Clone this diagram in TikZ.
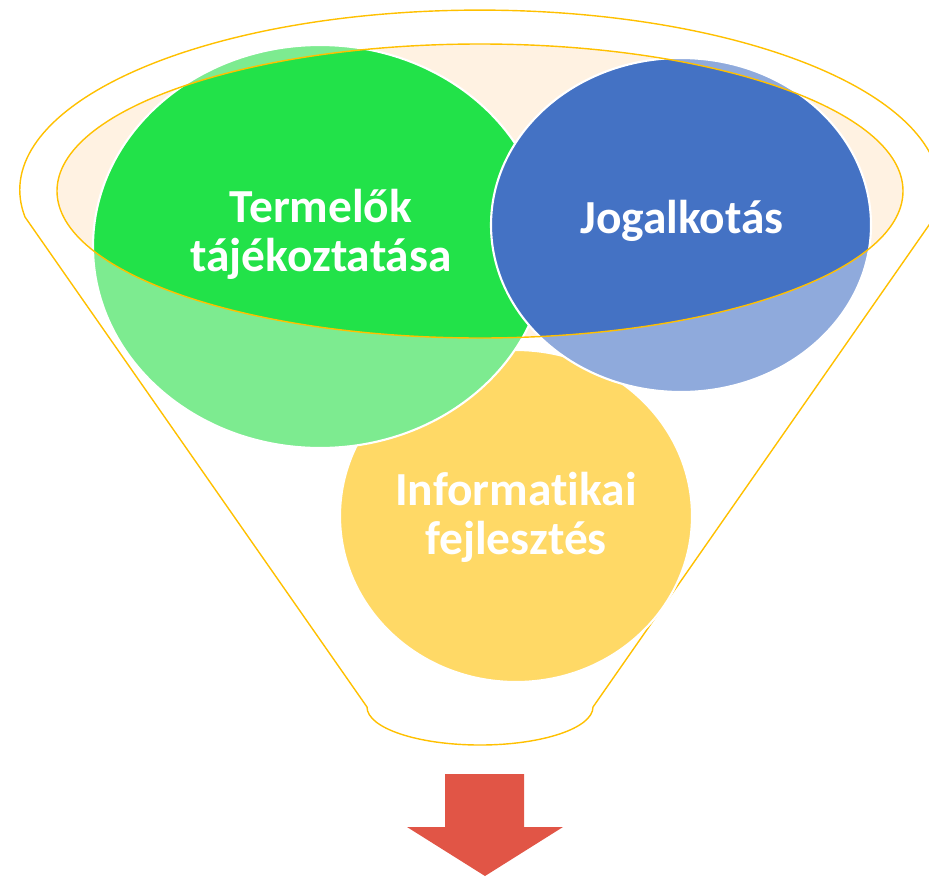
\documentclass[tikz,border=0pt]{standalone}
\usepackage{fontspec}
\setmainfont{Carlito}[Ligatures=NoCommon]

\definecolor{funnelline}{HTML}{FFC000}
\definecolor{mouth}{HTML}{FFF2E2}
\definecolor{greenlight}{HTML}{7DEB90}
\definecolor{greendark}{HTML}{22E249}
\definecolor{bluelight}{HTML}{8FAADC}
\definecolor{bluedark}{HTML}{4472C4}
\definecolor{yellowball}{HTML}{FFD966}
\definecolor{arrowred}{HTML}{E15546}

\tikzset{
  funnel/.style={
    draw=funnelline,
    line width=0.8pt,
  },
  ball rim/.style={
    draw=white,
    line width=1.2pt,
  },
  ball label/.style={
    text=white,
    align=center,
    font=\bfseries\fontsize{27}{27.8}\selectfont,
  },
}

\begin{document}
\begin{tikzpicture}[x=0.02cm, y=-0.02cm]
  \useasboundingbox (0,0) rectangle (929,876);

  % funnel body
  \draw[funnel] (25,217)
    arc [start angle=171.4, end angle=368.6, x radius=460, y radius=180]
    -- (593,707)
    arc [start angle=0, end angle=180, x radius=113, y radius=38]
    -- cycle;
  \fill[mouth] (480,191) ellipse [x radius=423, y radius=147];

  % balls
  \fill[yellowball] (516,516) ellipse [x radius=176, y radius=166];
  \draw[ball rim] (516,516) ellipse [x radius=176, y radius=166];

  \fill[greenlight] (320,246.5) ellipse [x radius=227, y radius=201.5];
  \begin{scope}
    \clip (480,191) ellipse [x radius=423, y radius=147];
    \fill[greendark] (320,246.5) ellipse [x radius=227, y radius=201.5];
  \end{scope}
  \draw[ball rim] (320,246.5) ellipse [x radius=227, y radius=201.5];

  \fill[bluelight] (681,225) ellipse [x radius=190, y radius=167];
  \begin{scope}
    \clip (480,191) ellipse [x radius=423, y radius=147];
    \fill[bluedark] (681,225) ellipse [x radius=190, y radius=167];
  \end{scope}
  \draw[ball rim] (681,225) ellipse [x radius=190, y radius=167];

  \draw[funnel] (480,191) ellipse [x radius=423, y radius=147];

  \node[ball label] (termelok) at (321,234) {Termelők\\tájékoztatása};
  \node[ball label] (jog) at (682,221) {Jogalkotás};
  \node[ball label] (info) at (516,517) {Informatikai\\fejlesztés};

  % output arrow
  \fill[arrowred] (445,774) -- (524,774) -- (524,827) -- (563,827)
    -- (485,876) -- (407,827) -- (445,827) -- cycle;
\end{tikzpicture}
\end{document}
